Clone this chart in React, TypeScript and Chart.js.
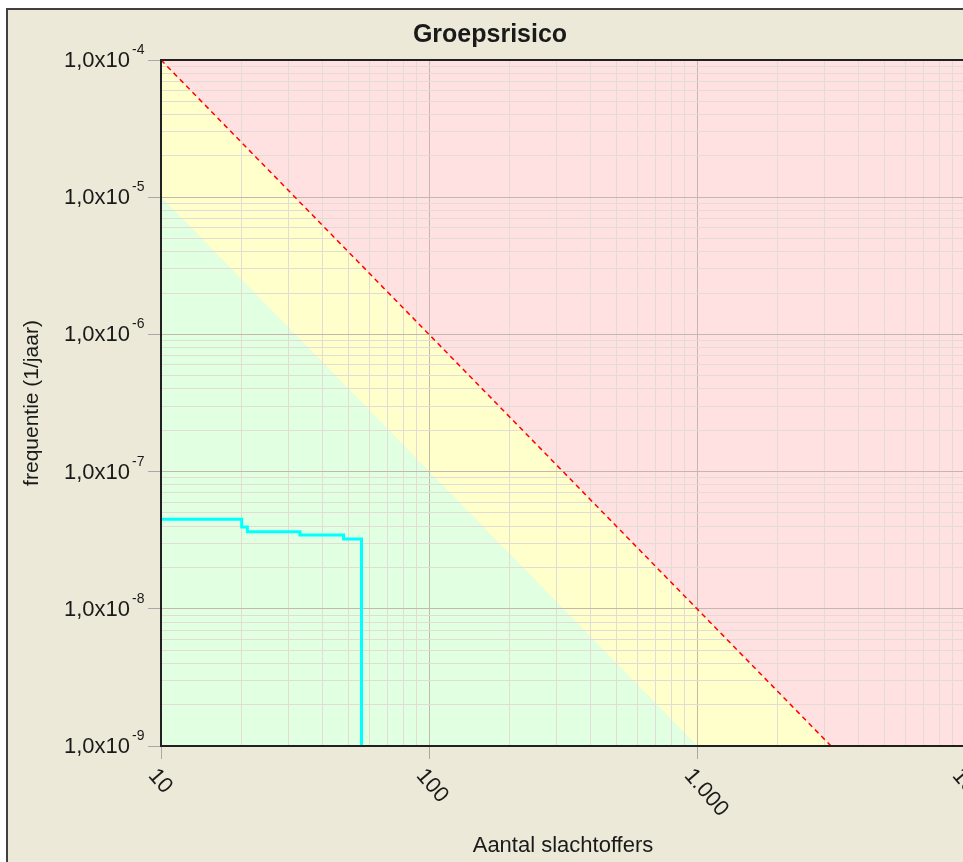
import React, { useEffect, useRef } from "react";
import { Chart, registerables } from "chart.js";

Chart.register(...registerables);

const chartTitle = "Groepsrisico";
const xAxisTitle = "Aantal slachtoffers";
const yAxisTitle = "frequentie (1/jaar)";

const xMajorTicks = [10, 100, 1000, 10000];
const xTickLabels = ["10", "100", "1.000", "10.000"];
const yMajorTicks = [1e-9, 1e-8, 1e-7, 1e-6, 1e-5, 1e-4];
const yTickMantissas = ["1,0x10", "1,0x10", "1,0x10", "1,0x10", "1,0x10", "1,0x10"];
const yTickExponents = ["-9", "-8", "-7", "-6", "-5", "-4"];

// Oriëntatiewaarde (upper, dashed) line
const limitN = [10, 10000];
const limitF = [1e-4, 1e-10];
// Lower boundary of the yellow zone
const lowerN = [10, 10000];
const lowerF = [1e-5, 1e-11];

// Groepsrisico curve (steps)
const grN = [10, 20, 21, 33, 48, 56];
const grF = [4.5e-8, 3.95e-8, 3.65e-8, 3.45e-8, 3.23e-8, 1e-9];

const FONT = '"Liberation Sans", Arial, sans-serif';

function withMinors(majors: number[]) {
  const out: { value: number; major: boolean }[] = [];
  for (let i = 0; i < majors.length; i++) {
    out.push({ value: majors[i], major: true });
    if (i < majors.length - 1) {
      for (let k = 2; k <= 9; k++) out.push({ value: k * majors[i], major: false });
    }
  }
  return out;
}

const pts = (xs: number[], ys: number[]) => xs.map((x, i) => ({ x, y: ys[i] }));

const gridColor = (c: any) => (c.tick && c.tick.major ? "#C4B8AE" : "#E2DCD4");
const tickColor = (c: any) => (c.tick && c.tick.major ? "#A8A8A8" : "rgba(0,0,0,0)");

const textPlugin = {
  id: "texts",
  afterDraw(chart: any) {
    const { ctx, chartArea, scales } = chart;
    ctx.save();
    ctx.strokeStyle = "#202020";
    ctx.lineWidth = 2;
    ctx.strokeRect(chartArea.left, chartArea.top, chartArea.right - chartArea.left, chartArea.bottom - chartArea.top);

    ctx.fillStyle = "#1a1a1a";
    // title
    ctx.font = `bold 25px ${FONT}`;
    ctx.textAlign = "center";
    ctx.textBaseline = "alphabetic";
    ctx.fillText(chartTitle, 490, 42);

    // y tick labels
    for (let i = 0; i < yMajorTicks.length; i++) {
      const py = scales.y.getPixelForValue(yMajorTicks[i]);
      ctx.font = `22px ${FONT}`;
      ctx.textAlign = "right";
      ctx.fillText(yTickMantissas[i], 130, py + 7);
      ctx.font = `14px ${FONT}`;
      ctx.textAlign = "left";
      ctx.fillText(yTickExponents[i], 132, py - 6);
    }

    // x tick labels (rotated clockwise)
    ctx.font = `22px ${FONT}`;
    ctx.textAlign = "left";
    ctx.textBaseline = "middle";
    for (let i = 0; i < xMajorTicks.length; i++) {
      const px = scales.x.getPixelForValue(xMajorTicks[i]);
      ctx.save();
      ctx.translate(px - 9, chartArea.bottom + 26);
      ctx.rotate((49 * Math.PI) / 180);
      ctx.fillText(xTickLabels[i], 0, 0);
      ctx.restore();
    }

    // axis titles
    ctx.textBaseline = "alphabetic";
    ctx.textAlign = "center";
    ctx.font = `22px ${FONT}`;
    ctx.fillText(xAxisTitle, (chartArea.left + chartArea.right) / 2, 852);

    ctx.save();
    ctx.translate(32, (chartArea.top + chartArea.bottom) / 2);
    ctx.rotate(-Math.PI / 2);
    ctx.textBaseline = "middle";
    ctx.font = `21px ${FONT}`;
    ctx.fillText(yAxisTitle, 0, 0);
    ctx.restore();

    ctx.restore();
  },
};

export default function App() {
  const ref = useRef<HTMLCanvasElement | null>(null);

  useEffect(() => {
    if (!ref.current) return;
    const chart = new Chart(ref.current, {
      type: "line",
      data: {
        datasets: [
          {
            label: "Groepsrisico",
            data: pts(grN, grF),
            borderColor: "#00FFFF",
            borderWidth: 3,
            stepped: true,
            fill: false,
            pointRadius: 0,
          },
          {
            label: "Oriëntatiewaarde",
            data: pts(limitN, limitF),
            borderColor: "#FF0000",
            borderWidth: 1.5,
            borderDash: [5, 4],
            backgroundColor: "#FFE1E1",
            fill: "end",
            pointRadius: 0,
          },
          {
            label: "laag",
            data: pts(lowerN, lowerF),
            borderWidth: 0,
            borderColor: "rgba(0,0,0,0)",
            backgroundColor: "#E1FFE1",
            fill: "start",
            pointRadius: 0,
          },
          {
            label: "zone",
            data: pts(lowerN, lowerF),
            borderWidth: 0,
            borderColor: "rgba(0,0,0,0)",
            backgroundColor: "#FFFFCC",
            fill: "end",
            pointRadius: 0,
          },
        ],
      },
      options: {
        responsive: false,
        animation: false,
        layout: { padding: { left: 0, top: 60, right: 15, bottom: 0 } },
        plugins: {
          legend: { display: false },
          tooltip: { enabled: false },
          title: { display: false },
          filler: { drawTime: "beforeDraw" },
        },
        scales: {
          x: {
            type: "logarithmic",
            min: 10,
            max: 10000,
            afterBuildTicks: (s: any) => {
              s.ticks = withMinors(xMajorTicks);
            },
            afterFit: (s: any) => {
              s.height = 116;
            },
            ticks: { display: false, autoSkip: false },
            grid: { color: gridColor, tickColor: tickColor, tickLength: 13, lineWidth: 1 },
            border: { display: false },
          },
          y: {
            type: "logarithmic",
            min: 1e-9,
            max: 1e-4,
            afterBuildTicks: (s: any) => {
              s.ticks = withMinors(yMajorTicks);
            },
            afterFit: (s: any) => {
              s.width = 161;
            },
            ticks: { display: false, autoSkip: false },
            grid: { color: gridColor, tickColor: tickColor, tickLength: 13, lineWidth: 1 },
            border: { display: false },
          },
        },
      } as any,
      plugins: [textPlugin],
    });
    return () => chart.destroy();
  }, []);

  return (
    <div
      style={{
        position: "fixed",
        left: 0,
        top: 0,
        width: 963,
        height: 862,
        overflow: "hidden",
        background: "#FFFFFF",
      }}
    >
      <div
        style={{
          position: "absolute",
          left: 6,
          top: 8,
          width: 1000,
          height: 900,
          background: "#ECE9D8",
          borderTop: "2px solid #404040",
          borderLeft: "2px solid #404040",
        }}
      />
      <canvas
        ref={ref}
        width={980}
        height={862}
        style={{ position: "absolute", left: 0, top: 0, width: 980, height: 862 }}
      />
    </div>
  );
}
